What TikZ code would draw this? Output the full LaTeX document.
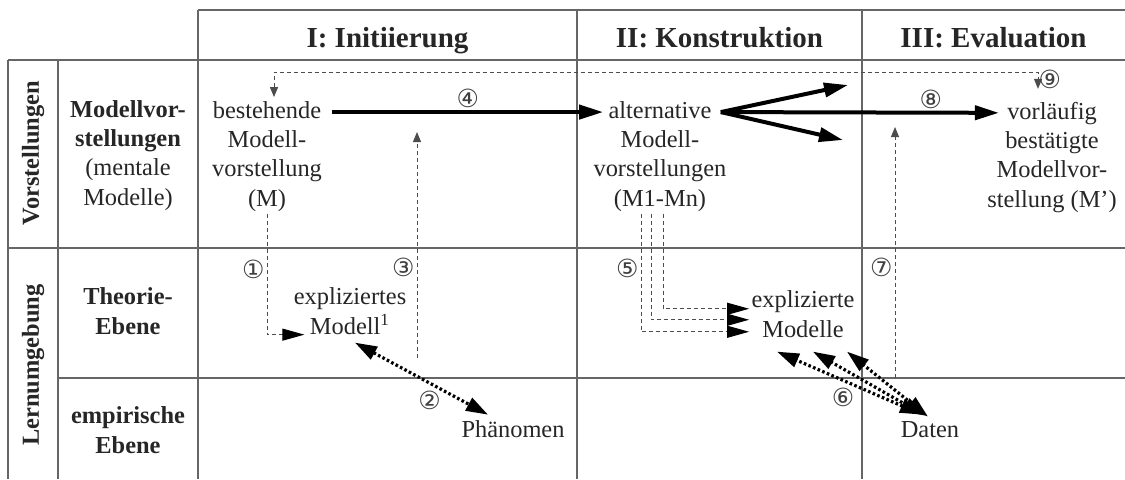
\documentclass[tikz,border=0pt]{standalone}
\usepackage{fontspec}
\setmainfont{Liberation Serif}
\newfontfamily\circfont{DejaVu Sans}
\usetikzlibrary{arrows.meta}

\begin{document}
\begin{tikzpicture}[x=0.5pt,y=-0.5pt,
    txt/.style={align=center,inner sep=1pt,text=black!85,font=\fontsize{12.2}{14.6}\selectfont},
    btxt/.style={txt,font=\fontsize{12.2}{14.6}\selectfont\bfseries},
    hdr/.style={anchor=base,inner sep=0pt,text=black!85,font=\fontsize{14.5}{17}\selectfont\bfseries},
    num/.style={inner sep=1pt,text=black!75,font=\circfont\fontsize{12.5}{13}\selectfont},
    grid/.style={draw=black!60,line width=0.6pt},
    bigarr/.style={line width=2pt,-{Triangle[length=12pt,width=7pt]}},
    dasharr/.style={black!70,line width=0.5pt,dash pattern=on 2pt off 1.5pt,-{Triangle[length=5pt,width=4pt]}},
    dashbig/.style={black!70,line width=0.5pt,dash pattern=on 2pt off 1.5pt,-{Triangle[length=11pt,width=6pt,black]}},
    dotarr/.style={line width=1.6pt,dash pattern=on 1.3pt off 1.2pt,{Triangle[length=11pt,width=7pt]}-{Triangle[length=11pt,width=7pt]}}]
  \useasboundingbox (0,0) rectangle (1125,479);

  \draw[grid] (198,10) -- (1125,10);
  \draw[grid] (8,60) -- (1125,60);
  \draw[grid] (8,248) -- (1125,248);
  \draw[grid] (58,378) -- (1125,378);
  \foreach \x/\y in {8/60,58/60,198/10,577/10,862/10}
    \draw[grid] (\x,\y) -- (\x,479);

  \node[hdr] (h1) at (387.5,47) {I: Initiierung};
  \node[hdr] (h2) at (719.5,47) {II: Konstruktion};
  \node[hdr] (h3) at (993.5,47) {III: Evaluation};

  \node[btxt,rotate=90] (vorst) at (33,153) {Vorstellungen};
  \node[btxt,rotate=90] (lern) at (33,365) {Lernumgebung};
  \node[txt,anchor=base] (mv) at (128,205) {\textbf{Modellvor-}\\\textbf{stellungen}\\(mentale\\Modelle)};
  \node[btxt,anchor=base] (te) at (128,334) {Theorie-\\Ebene};
  \node[btxt,anchor=base] (ee) at (128,453) {empirische\\Ebene};

  \node[txt,anchor=base] (bm) at (267,206) {bestehende\\Modell-\\vorstellung\\(M)};
  \node[txt,anchor=base] (am) at (660,206) {alternative\\Modell-\\vorstellungen\\(M1-Mn)};
  \node[txt,anchor=base] (vm) at (1052,207) {vorläufig\\bestätigte\\Modellvor-\\stellung (M')};
  \node[txt,anchor=base] (em1) at (350,334) {expliziertes\\Modell\textsuperscript{1}};
  \node[txt,anchor=base] (em2) at (803,337) {explizierte\\Modelle};
  \node[txt,anchor=base] (ph) at (513,437) {Phänomen};
  \node[txt,anchor=base] (da) at (930,437) {Daten};

  \coordinate (up) at (848,85);
  \coordinate (dn) at (843,140);
  \coordinate (p3) at (417,358);
  \coordinate (q3) at (417,132);
  \coordinate (p7) at (895,378);
  \coordinate (q7) at (895,127);

  \draw[bigarr] ([shift={(8,13)}]bm.north east) -- node[num,above] {④} ([shift={(12,13)}]am.north west);
  \draw[bigarr] ([shift={(-8,13)}]am.north east) -- node[num,above,pos=0.755] {⑧} ([shift={(14,13)}]vm.north west);
  \draw[bigarr] ([shift={(-8,13)}]am.north east) -- (up);
  \draw[bigarr] ([shift={(-8,13)}]am.north east) -- (dn);

  \draw[dasharr,{Triangle[length=5pt,width=4pt]}-{Triangle[length=5pt,width=4pt]}] ([shift={(7,-2)}]bm.north) -- ++(0,-25) -| ([shift={(-14,-11)}]vm.north) node[num,above right,inner sep=0pt] {⑨};
  \draw[dashbig] (bm.south) |- node[num,left,pos=0.23] {①} ([shift={(13,-2)}]em1.south west);
  \draw[dasharr] (p3) -- node[num,left,pos=0.4] {③} (q3);
  \draw[dasharr] (p7) -- node[num,left,pos=0.44] {⑦} (q7);

  \draw[dashbig] ([shift={(-19,0)}]am.south) |- node[num,left,pos=0.23] {⑤} ([shift={(0,17.7)}]em2.west);
  \draw[dashbig] ([shift={(-9,0)}]am.south) |- ([shift={(0,5.7)}]em2.west);
  \draw[dashbig] ([shift={(3,0)}]am.south) |- ([shift={(0,-5.3)}]em2.west);

  \draw[dotarr] ([shift={(5,6)}]em1.south) -- node[num,below=2pt,pos=0.56] {②} ([shift={(-25,-3)}]ph.north);
  \draw[dotarr] ([shift={(-8,-4)}]da.north) -- node[num,below=2pt,pos=0.545] {⑥} ([shift={(-26,12)}]em2.south);
  \draw[dotarr] ([shift={(-5,-3)}]da.north) -- ([shift={(10,12)}]em2.south);
  \draw[dotarr] ([shift={(-2,-2)}]da.north) -- ([shift={(44,12)}]em2.south);
\end{tikzpicture}
\end{document}
